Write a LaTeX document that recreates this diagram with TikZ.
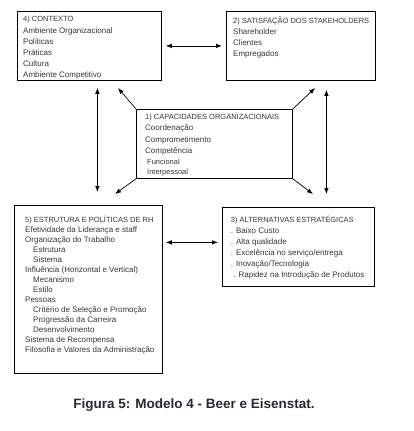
\documentclass[tikz,border=0pt]{standalone}
\usepackage{fontspec}
\setmainfont{Liberation Sans}
\usetikzlibrary{arrows.meta,positioning,calc}
\definecolor{ink}{HTML}{363636}
\definecolor{capt}{HTML}{2A2530}
\newcommand\cab[1]{{\fontsize{7.5}{11.2}\selectfont #1}}

\begin{document}
\begin{tikzpicture}[x=1pt,y=-1pt,
  caixa/.style={draw=black, line width=0.8pt, inner sep=0pt, anchor=north west},
  texto/.style={anchor=north west, inner sep=0pt, align=left, text=ink, font=\fontsize{8}{11.2}\selectfont},
  seta/.style={<->, line width=0.7pt},
  >={Latex[length=6pt,width=4.5pt]}]
\useasboundingbox (0,0) rectangle (414,431);
% caixas
\foreach \n/\x/\y/\w/\h in {c4/17/11/144/69, c2/226/11/149/69, c1/136/109/156/69, c5/14/205/148/168, c3/222/207/152/79}
  \node[caixa, minimum width=\w pt, minimum height=\h pt] (\n) at (\x,\y) {};
% textos
\node[texto] (t4) at ($(c4.north west)+(6,5.3)$) {\cab{4) CONTEXTO}\\ Ambiente Organizacional\\ Políticas\\ Práticas\\ Cultura\\ Ambiente Competitivo};
\node[texto] (t2) at ($(c2.north west)+(7,5.5)$) {\cab{2) SATISFAÇÃO DOS STAKEHOLDERS}\\ Shareholder\\ Clientes\\ Empregados};
\node[texto] (t1) at ($(c1.north west)+(9,5)$) {\cab{1) CAPACIDADES ORGANIZACIONAIS}\\ Coordenação\\ Comprometimento\\ Competência\\ \hspace*{2pt}{\fontsize{7.5}{10}\selectfont Funcional}\\[-1.2pt] \hspace*{2pt}{\fontsize{7.5}{10}\selectfont Interpessoal}};
\node[texto, font=\fontsize{8}{10}\selectfont] (t5) at ($(c5.north west)+(11,10.7)$) {\cab{5) ESTRUTURA E POLÍTICAS DE RH}\\ Efetividade da Liderança e staff\\ Organização do Trabalho\\ \hspace*{8pt}Estrutura\\ \hspace*{8pt}Sistema\\ Influência (Horizontal e Vertical)\\ \hspace*{8pt}Mecanismo\\ \hspace*{8pt}Estilo\\ Pessoas\\ \hspace*{8pt}Critério de Seleção e Promoção\\ \hspace*{8pt}Progressão da Carreira\\ \hspace*{8pt}Desenvolvimento\\ Sistema de Recompensa\\ Filosofia e Valores da Administração};
\node[texto, font=\fontsize{8}{11.1}\selectfont] (t3) at ($(c3.north west)+(8.7,8.7)$) {\cab{3) ALTERNATIVAS ESTRATÉGICAS}\\ . Baixo Custo\\ . Alta qualidade\\ . Excelência no serviço/entrega\\ . Inovação/Tecnologia\\ \hspace*{2.5pt}. Rapidez na Introdução de Produtos};
% pontas livres
\coordinate (p4) at (118,88);
\coordinate (p2) at (315,88);
\coordinate (p5) at (115,194);
\coordinate (p3) at (313,194);
\coordinate (v4) at ($(c4.south)+(8,0)$);
\coordinate (v2) at ($(c2.south)+(25.5,0)$);
\coordinate (h3) at ($(c3.west)+(0,-4.5)$);
% setas
\draw[seta, shorten <=4pt, shorten >=4pt] (c4.east) -- (c2.west);
\draw[seta, shorten <=3pt, shorten >=4pt] (h3 -| c5.east) -- (h3);
\draw[seta, shorten <=7pt, shorten >=13pt] (v4) -- (v4 |- c5.north);
\draw[seta, shorten <=9pt, shorten >=13pt] (v2) -- (v2 |- c3.north);
\foreach \a/\b in {north west/p4, north east/p2, south west/p5, south east/p3}
  \draw[->, line width=0.7pt] (c1.\a) -- (\b);
% legenda
\node[anchor=base, font=\fontsize{13.5}{16}\selectfont\bfseries, text=capt] (leg) at (194,408) {Figura 5: Modelo 4 - Beer e Eisenstat.};
\end{tikzpicture}
\end{document}
